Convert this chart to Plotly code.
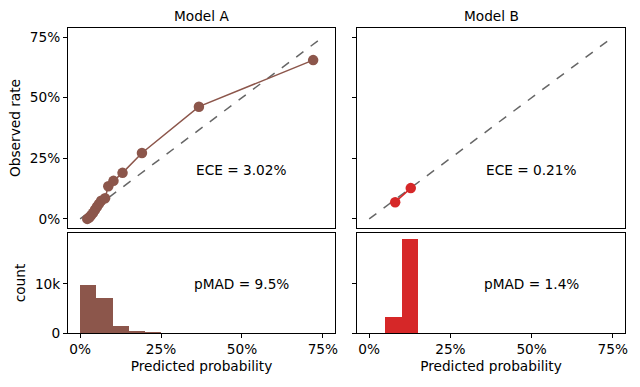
import plotly.graph_objects as go

# ---- data ----
model_a_pred = [0.022, 0.028, 0.034, 0.040, 0.046, 0.052, 0.058, 0.065, 0.077, 0.087, 0.103, 0.131, 0.191, 0.367, 0.720]
model_a_obs = [0.000, 0.006, 0.015, 0.025, 0.038, 0.050, 0.062, 0.075, 0.085, 0.135, 0.157, 0.190, 0.272, 0.463, 0.655]
model_b_pred = [0.080, 0.128]
model_b_obs = [0.069, 0.127]
bin_edges = [0.0, 0.05, 0.10, 0.15, 0.20, 0.25]
counts_a = [9800, 7200, 1400, 400, 100]
counts_b = [0, 3300, 19100, 0, 0]
ece_text = ["ECE = 3.02%", "ECE = 0.21%"]
pmad_text = ["pMAD = 9.5%", "pMAD = 1.4%"]
titles = ["Model A", "Model B"]
pct_vals = [0, 0.25, 0.5, 0.75]
pct_text = ["0%", "25%", "50%", "75%"]
count_vals = [0, 10000]
count_text = ["0", "10k"]
diag = [0, 0.75]

BROWN = "#8c564b"
RED = "#d62728"
FONT = "DejaVu Sans"
FS = 13.7

centers = [(bin_edges[i] + bin_edges[i + 1]) / 2 for i in range(len(bin_edges) - 1)]
widths = [bin_edges[i + 1] - bin_edges[i] for i in range(len(bin_edges) - 1)]

fig = go.Figure()

# top panels
for xa, ya, px, py, col in [("x", "y", model_a_pred, model_a_obs, BROWN),
                            ("x3", "y3", model_b_pred, model_b_obs, RED)]:
    fig.add_trace(go.Scatter(x=diag, y=diag, mode="lines", xaxis=xa, yaxis=ya,
                             line=dict(color="#666666", width=1.5, dash="dash"), showlegend=False))
    fig.add_trace(go.Scatter(x=px, y=py, mode="lines+markers", xaxis=xa, yaxis=ya,
                             line=dict(color=col, width=1.5),
                             marker=dict(color=col, size=10.5), showlegend=False))

# histograms
for xa, ya, cnt, col in [("x2", "y2", counts_a, BROWN), ("x4", "y4", counts_b, RED)]:
    fig.add_trace(go.Bar(x=centers, y=cnt, width=widths, xaxis=xa, yaxis=ya,
                         marker=dict(color=col, line=dict(width=0)), showlegend=False))

xl = [68 / 640, 335 / 640]
xr = [357 / 640, 625 / 640]
yt = [1 - 228 / 387, 1 - 28 / 387]
yb = [1 - 333 / 387, 1 - 233 / 387]
xrange_ = [-0.0375, 0.7875]

common = dict(showline=True, mirror=True, linecolor="black", linewidth=1, automargin=False,
              showgrid=False, zeroline=False, tickfont=dict(family=FONT, size=FS, color="black"),
              ticklen=4, tickcolor="black")
tfont = dict(family=FONT, size=FS, color="black")

fig.update_layout(
    width=640, height=387,
    margin=dict(l=0, r=0, t=0, b=0),
    paper_bgcolor="white", plot_bgcolor="white",
    bargap=0,
    font=dict(family=FONT, size=FS, color="black"),
    xaxis=dict(domain=xl, range=xrange_, anchor="y", showticklabels=False, ticks="", **common),
    yaxis=dict(domain=yt, range=[-0.0375, 0.7875], anchor="x", tickvals=pct_vals, ticktext=pct_text, ticks="outside",
               title=dict(text="Observed rate", font=tfont, standoff=6), **common),
    xaxis2=dict(domain=xl, range=xrange_, anchor="y2", tickvals=pct_vals, ticktext=pct_text, ticks="outside",
                title=dict(text="Predicted probability", font=tfont, standoff=4), **common),
    yaxis2=dict(domain=yb, range=[0, 20300], anchor="x2", tickvals=count_vals, ticktext=count_text, ticks="outside",
                title=dict(text="count", font=tfont, standoff=6), **common),
    xaxis3=dict(domain=xr, range=xrange_, anchor="y3", showticklabels=False, ticks="", **common),
    yaxis3=dict(domain=yt, range=[-0.0375, 0.7875], anchor="x3", tickvals=pct_vals, showticklabels=False, ticks="outside", **common),
    xaxis4=dict(domain=xr, range=xrange_, anchor="y4", tickvals=pct_vals, ticktext=pct_text, ticks="outside",
                title=dict(text="Predicted probability", font=tfont, standoff=4), **common),
    yaxis4=dict(domain=yb, range=[0, 20300], anchor="x4", tickvals=count_vals, showticklabels=False, ticks="outside", **common),
)

anns = []
for i, (xa, ya, xa2, ya2) in enumerate([("x", "y", "x2", "y2"), ("x3", "y3", "x4", "y4")]):
    anns.append(dict(x=0.5, y=0.2, xref=xa, yref=ya, text=ece_text[i], showarrow=False, font=tfont))
    anns.append(dict(x=0.5, y=10000, xref=xa2, yref=ya2, text=pmad_text[i], showarrow=False, font=tfont))
    dom = xl if i == 0 else xr
    anns.append(dict(x=(dom[0] + dom[1]) / 2, y=1 - 16 / 387, xref="paper", yref="paper",
                     xanchor="center", yanchor="middle",
                     text=titles[i], showarrow=False, font=tfont))
fig.update_layout(annotations=anns)

fig.write_html("out.html", config={"displayModeBar": False},
               post_script="document.body.style.margin='0';")
